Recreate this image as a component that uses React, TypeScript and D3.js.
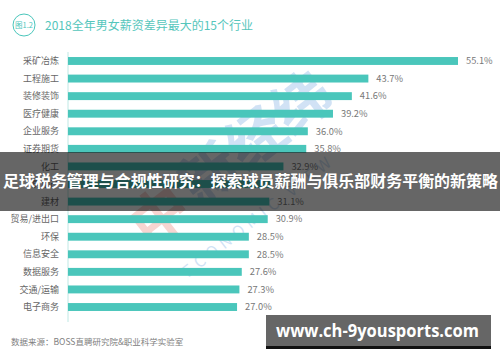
import * as d3 from 'd3';
import React from 'react';

// 2018 gender pay gap by industry (BOSS直聘)
const industries = [
  '采矿冶炼', '工程施工', '装修装饰', '医疗健康', '企业服务', '证券期货', '化工', '房地产',
  '建材', '贸易/进出口', '环保', '信息安全', '数据服务', '交通/运输', '电子商务',
];
const gapValues = [55.1, 43.7, 41.6, 39.2, 36.0, 35.8, 32.9, 31.4, 31.1, 30.9, 28.5, 28.5, 27.6, 27.3, 27.0];

const titleText = '2018全年男女薪资差异最大的15个行业';
const figTag = '图1.2';
const sourceText = '数据来源：BOSS直聘研究院&职业科学实验室';
const bannerText = '足球税务管理与合规性研究：探索球员薪酬与俱乐部财务平衡的新策略';
const siteText = 'www.ch-9yousports.com';

const W = 500;
const H = 362;
const TEAL = '#4ac6bb';
const FONT = '"Noto Sans CJK SC", "Noto Sans", sans-serif';

const App = () => {
  const data = industries.map((name, i) => ({ name, value: gapValues[i] }));

  // bars start at the axis, which sits at about 5.5% on the value scale
  const axisValue = 5.5;
  const x = d3.scaleLinear().domain([axisValue, 55.1]).range([68, 458]);
  const y = d3
    .scaleBand()
    .domain(industries)
    .range([52.2, 315.8])
    .paddingInner(0.55)
    .paddingOuter(0.275);

  return (
    <div style={{ position: 'absolute', left: 0, top: 0 }}>
      <svg width={W} height={H} style={{ display: 'block', background: '#fff' }}>
        {/* title */}
        <circle cx={24} cy={25} r={11} fill="none" stroke={TEAL} strokeWidth={1} />
        <text x={24} y={28} textAnchor="middle" fontSize={7.5} fill={TEAL} fontFamily={FONT}>
          {figTag}
        </text>
        <text x={45} y={29.5} fontSize={12} fill="#55c6bc" fontFamily={FONT}>
          {titleText}
        </text>

        {/* watermark */}
        <g opacity={0.25} fontFamily={FONT} fontWeight={700}>
          <text x={0} y={0} fontSize={58} fill="#e05a4a" transform="translate(150,250) rotate(-38)">
            中
          </text>
          <text x={0} y={0} fontSize={58} fill="#4a90d9" transform="translate(200,208) rotate(-38)">
            新经纬
          </text>
          <text x={0} y={0} fontSize={16} fill="#4a90d9" fontWeight={400} letterSpacing={5}
            transform="translate(188,278) rotate(-38)">
            ECONOMIC VIEW
          </text>
        </g>

        {/* axis line */}
        <line x1={x(axisValue)} x2={x(axisValue)} y1={52} y2={322} stroke="#bfe8e4" strokeWidth={1} />

        {/* bars */}
        {data.map((d) => (
          <rect
            key={d.name}
            x={x(axisValue)}
            y={y(d.name)}
            width={x(d.value) - x(axisValue)}
            height={y.bandwidth()}
            fill={TEAL}
          />
        ))}

        {/* category labels */}
        {data.map((d) => (
          <text
            key={'l' + d.name}
            x={59}
            y={y(d.name)! + y.bandwidth() / 2}
            dy="0.35em"
            textAnchor="end"
            fontSize={9}
            fill="#666"
            fontFamily={FONT}
          >
            {d.name}
          </text>
        ))}

        {/* value labels */}
        {data.map((d) => (
          <text
            key={'v' + d.name}
            x={x(d.value) + 8}
            y={y(d.name)! + y.bandwidth() / 2}
            dy="0.35em"
            fontSize={9.3}
            fill="#777"
            fontFamily={FONT}
          >
            {d.value.toFixed(1)}%
          </text>
        ))}

        {/* source */}
        <text x={11} y={345} fontSize={8.5} fill="#808080" fontFamily={FONT}>
          {sourceText}
        </text>

        {/* banner overlay */}
        <rect x={0} y={152} width={W} height={59} fill="#000" opacity={0.6} />
        <text
          x={3}
          y={182}
          dy="0.35em"
          fontSize={15.5}
          fontWeight={700}
          fill="#fff"
          fontFamily={FONT}
          textLength={495}
          lengthAdjust="spacingAndGlyphs"
        >
          {bannerText}
        </text>

        {/* site box */}
        <rect x={266} y={315} width={225} height={34} fill="#666" />
        <rect x={266} y={346} width={225} height={3} fill="#111" />
        <text
          x={276}
          y={331}
          dy="0.35em"
          fontSize={18}
          fontWeight={700}
          fill="#fff"
          fontFamily='"Open Sans", "Noto Sans", sans-serif'
          textLength={203}
          lengthAdjust="spacingAndGlyphs"
        >
          {siteText}
        </text>
      </svg>
    </div>
  );
};

export default App;
